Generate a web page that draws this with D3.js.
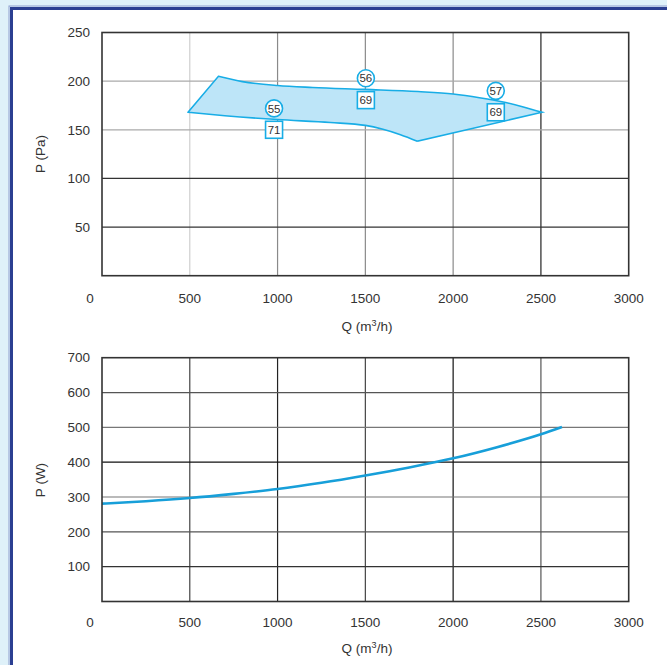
<!DOCTYPE html>
<html>
<head>
<meta charset="utf-8">
<script src="https://cdn.jsdelivr.net/npm/d3@7"></script>
<style>
  body { margin: 0; background: #dff1f9; }
  svg { display: block; font-family: "Liberation Sans", Arial, sans-serif; }
</style>
</head>
<body>
<svg id="chart" width="667" height="665"></svg>
<script>
// pressure chart (Q in m3/h, P in Pa)
const qTicks = [0, 500, 1000, 1500, 2000, 2500, 3000];
const paTicks = [50, 100, 150, 200, 250];
const wTicks = [100, 200, 300, 400, 500, 600, 700];

// working area outline
const upperQ = [663, 800, 1000, 1200, 1500, 1800, 2000, 2150, 2300, 2400, 2507];
const upperP = [205, 199.5, 195.5, 193.5, 191.5, 189.3, 186.8, 183, 178, 173.5, 168];
const dipQ = [2507, 1796];
const dipP = [168, 138.3];
const lowerQ = [1796, 1700, 1600, 1500, 1300, 1000, 700, 490];
const lowerP = [138.3, 145, 150.5, 154.5, 157.5, 160.5, 164.5, 168];

// noise / efficiency markers
const markQ = [980, 1503, 2243];
const circleVals = ["55", "56", "57"];
const circleP = [172, 203, 190];
const boxVals = ["71", "69", "69"];
const boxP = [150, 180.5, 168];

// power curve (Q in m3/h, P in W)
const powerQ = [0, 250, 500, 750, 1000, 1250, 1500, 1750, 2000, 2250, 2500, 2620];
const powerW = [281, 288, 297, 309, 323, 341, 362, 385, 411, 443, 480, 501];

const svg = d3.select("#chart");
const blue = "#18ade6";

// frame
svg.append("rect").attr("x", 9).attr("y", 6).attr("width", 700).attr("height", 700)
    .attr("fill", "none").attr("stroke", "#8fa0cf").attr("stroke-width", 1);
svg.append("rect").attr("x", 11.5).attr("y", 8.5).attr("width", 700).attr("height", 700)
    .attr("fill", "#fff").attr("stroke", "#2b3f92").attr("stroke-width", 3);

const x = d3.scaleLinear().domain([0, 3000]).range([102, 628.7]);

function labels(g, yScale, ticks, yLabel, labelY, axisY, qLabelY) {
    g.selectAll("text.yt").data(ticks).join("text")
        .attr("class", "yt")
        .attr("x", 90).attr("y", d => yScale(d)).attr("dy", "0.35em")
        .attr("text-anchor", "end").attr("font-size", 13.5).attr("fill", "#333")
        .text(d => d);
    g.selectAll("text.xt").data(qTicks).join("text")
        .attr("class", "xt")
        .attr("x", d => d === 0 ? 90 : x(d)).attr("y", axisY).attr("dy", "0.35em")
        .attr("text-anchor", "middle").attr("font-size", 13.5).attr("fill", "#333")
        .text(d => d);
    g.append("text")
        .attr("transform", `translate(45,${labelY}) rotate(-90)`)
        .attr("text-anchor", "middle").attr("font-size", 13.5).attr("fill", "#333")
        .text(yLabel);
    const q = g.append("text").attr("x", 367).attr("y", qLabelY).attr("dy", "0.35em")
        .attr("text-anchor", "middle").attr("font-size", 13.5).attr("fill", "#333");
    q.append("tspan").text("Q (m");
    q.append("tspan").attr("font-size", 9).attr("dy", -4.5).text("3");
    q.append("tspan").attr("dy", 4.5).text("/h)");
}

// ---------- top chart ----------
const y1 = d3.scaleLinear().domain([0, 250]).range([275.7, 32.5]);
const topG = svg.append("g");

const vCol1 = { 500: "#cfcfcf", 1000: "#8a8a8a", 1500: "#8a8a8a", 2000: "#8a8a8a", 2500: "#222" };
const hCol1 = { 50: "#333", 100: "#333", 150: "#aaa", 200: "#aaa" };

topG.selectAll("line.v").data([500, 1000, 1500, 2000, 2500]).join("line")
    .attr("class", "v")
    .attr("x1", d => x(d)).attr("x2", d => x(d))
    .attr("y1", y1(0)).attr("y2", y1(250))
    .attr("stroke", d => vCol1[d]).attr("stroke-width", 1.2);
topG.selectAll("line.h").data([50, 100, 150, 200]).join("line")
    .attr("class", "h")
    .attr("x1", x(0)).attr("x2", x(3000))
    .attr("y1", d => y1(d)).attr("y2", d => y1(d))
    .attr("stroke", d => hCol1[d]).attr("stroke-width", 1.2);

// area polygon
const upper = upperQ.map((q, i) => [x(q), y1(upperP[i])]);
const lower = lowerQ.map((q, i) => [x(q), y1(lowerP[i])]);
const curve = d3.line().curve(d3.curveMonotoneX);
const leftEnd = lower[lower.length - 1];
const path = "M" + leftEnd.join(",") + "L" + curve(upper).slice(1)
    + "L" + [x(dipQ[1]), y1(dipP[1])].join(",")
    + "L" + curve(lower).slice(1) + "Z";
topG.append("path").attr("d", path)
    .attr("fill", "#bde5f8").attr("stroke", blue).attr("stroke-width", 1.6)
    .attr("stroke-linejoin", "miter");

// markers
markQ.forEach((q, i) => {
    const cx = x(q);
    topG.append("circle").attr("cx", cx).attr("cy", y1(circleP[i])).attr("r", 8.5)
        .attr("fill", "#fff").attr("stroke", blue).attr("stroke-width", 1.6);
    topG.append("text").attr("x", cx).attr("y", y1(circleP[i])).attr("dy", "0.36em")
        .attr("text-anchor", "middle").attr("font-size", 11.5).attr("fill", "#333")
        .text(circleVals[i]);
    topG.append("rect").attr("x", cx - 8.5).attr("y", y1(boxP[i]) - 8.5)
        .attr("width", 17).attr("height", 17)
        .attr("fill", "#fff").attr("stroke", blue).attr("stroke-width", 1.6);
    topG.append("text").attr("x", cx).attr("y", y1(boxP[i])).attr("dy", "0.36em")
        .attr("text-anchor", "middle").attr("font-size", 11.5).attr("fill", "#333")
        .text(boxVals[i]);
});

topG.append("rect").attr("x", x(0)).attr("y", y1(250))
    .attr("width", x(3000) - x(0)).attr("height", y1(0) - y1(250))
    .attr("fill", "none").attr("stroke", "#333").attr("stroke-width", 1.6);

labels(topG, y1, paTicks, "P (Pa)", 154, 298, 326);

// ---------- bottom chart ----------
const y2 = d3.scaleLinear().domain([0, 700]).range([601.5, 357.7]);
const botG = svg.append("g");

const vCol2 = { 500: "#444", 1000: "#222", 1500: "#444", 2000: "#111", 2500: "#555" };
const hCol2 = { 100: "#333", 200: "#555", 300: "#777", 400: "#111", 500: "#777", 600: "#555" };

botG.selectAll("line.v").data([500, 1000, 1500, 2000, 2500]).join("line")
    .attr("class", "v")
    .attr("x1", d => x(d)).attr("x2", d => x(d))
    .attr("y1", y2(0)).attr("y2", y2(700))
    .attr("stroke", d => vCol2[d]).attr("stroke-width", 1.2);
botG.selectAll("line.h").data([100, 200, 300, 400, 500, 600]).join("line")
    .attr("class", "h")
    .attr("x1", x(0)).attr("x2", x(3000))
    .attr("y1", d => y2(d)).attr("y2", d => y2(d))
    .attr("stroke", d => hCol2[d]).attr("stroke-width", 1.2);

botG.append("path")
    .attr("d", d3.line().curve(d3.curveMonotoneX)(powerQ.map((q, i) => [x(q), y2(powerW[i])])))
    .attr("fill", "none").attr("stroke", "#179fd9").attr("stroke-width", 2.6);

botG.append("rect").attr("x", x(0)).attr("y", y2(700))
    .attr("width", x(3000) - x(0)).attr("height", y2(0) - y2(700))
    .attr("fill", "none").attr("stroke", "#333").attr("stroke-width", 1.6);

labels(botG, y2, wTicks, "P (W)", 480, 622, 648);
</script>
</body>
</html>
